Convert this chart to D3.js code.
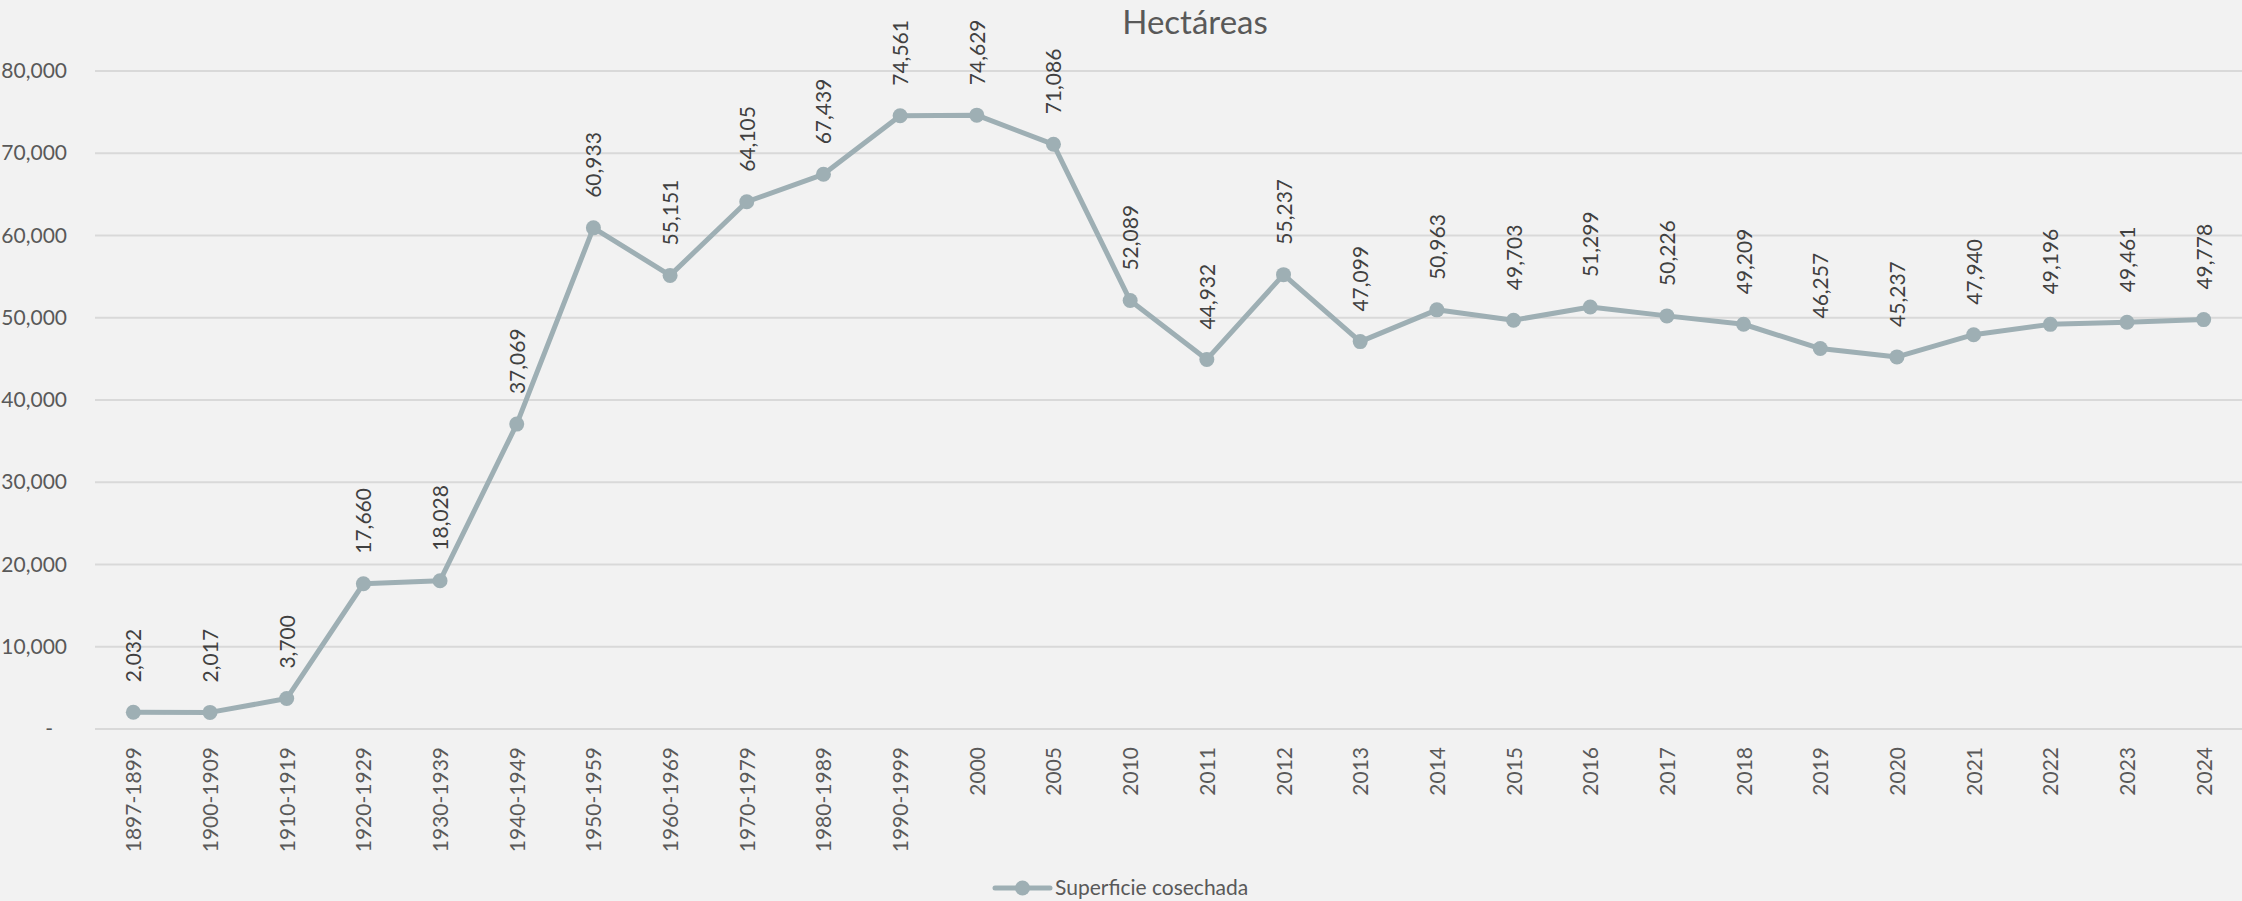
<!DOCTYPE html>
<html><head><meta charset="utf-8">
<script src="https://cdn.jsdelivr.net/npm/d3@7"></script>
<style>
html,body{margin:0;padding:0;background:#F2F2F2;}
svg{display:block;}
text{font-family:"Lato","Open Sans",sans-serif;}
</style></head>
<body><svg id="c" width="2242" height="901"></svg>
<script>
const categories = ["1897-1899","1900-1909","1910-1919","1920-1929","1930-1939","1940-1949","1950-1959","1960-1969","1970-1979","1980-1989","1990-1999","2000","2005","2010","2011","2012","2013","2014","2015","2016","2017","2018","2019","2020","2021","2022","2023","2024"];
const values = [2032,2017,3700,17660,18028,37069,60933,55151,64105,67439,74561,74629,71086,52089,44932,55237,47099,50963,49703,51299,50226,49209,46257,45237,47940,49196,49461,49778];
const yTicks = [0,10000,20000,30000,40000,50000,60000,70000,80000];
const seriesName = "Superficie cosechada";
const title = "Hectáreas";

const W = 2242, H = 901;
const m = {left:95, right:0, top:71, bottom:172};
const lineColor = "#9EAFB4";
const svg = d3.select("#c");
svg.append("rect").attr("width",W).attr("height",H).attr("fill","#F2F2F2");

const x = d3.scaleBand().domain(categories).range([m.left, W - m.right]);
const y = d3.scaleLinear().domain([0,80000]).range([H - m.bottom, m.top]);
const fmt = d3.format(",");

// gridlines
svg.append("g").selectAll("line").data(yTicks).join("line")
  .attr("x1", m.left).attr("x2", W - m.right)
  .attr("y1", d=>y(d)).attr("y2", d=>y(d))
  .attr("stroke","#D9D9D9").attr("stroke-width",2);

// y axis
const yAxis = svg.append("g").attr("transform",`translate(${m.left},0)`)
  .call(d3.axisLeft(y).tickValues(yTicks).tickSize(0).tickPadding(28)
    .tickFormat(d => d===0 ? "-" : fmt(d)));
yAxis.select(".domain").remove();
yAxis.selectAll("text").attr("font-size",21).attr("fill","#595959")
  .style("font-family","Lato, sans-serif");
yAxis.selectAll("text").filter(d=>d===0).attr("dx",-14);

// x axis
const xAxis = svg.append("g").attr("transform",`translate(0,${H - m.bottom})`)
  .call(d3.axisBottom(x).tickSize(0).tickPadding(0));
xAxis.select(".domain").remove();
xAxis.selectAll("text")
  .attr("font-size",21).attr("fill","#595959")
  .style("font-family","Lato, sans-serif")
  .attr("text-anchor","end").attr("dy",null).attr("y",0)
  .attr("transform","translate(8,18) rotate(-90)");

// line
const cx = d => x(d) + x.bandwidth()/2;
const data = categories.map((c,i)=>({c, v:values[i]}));
svg.append("path").datum(data)
  .attr("fill","none").attr("stroke",lineColor).attr("stroke-width",5)
  .attr("stroke-linejoin","round").attr("stroke-linecap","round")
  .attr("d", d3.line().x(d=>cx(d.c)).y(d=>y(d.v)));
svg.append("g").selectAll("circle").data(data).join("circle")
  .attr("cx", d=>cx(d.c)).attr("cy", d=>y(d.v)).attr("r",7.5).attr("fill",lineColor);

// data labels
svg.append("g").selectAll("text").data(data).join("text")
  .attr("transform", d=>`translate(${cx(d.c)+8},${y(d.v)-30}) rotate(-90)`)
  .attr("text-anchor","start").attr("font-size",21).attr("fill","#404040")
  .text(d=>fmt(d.v));

// title
svg.append("text").attr("x",1195).attr("y",34).attr("text-anchor","middle")
  .attr("font-size",33).attr("fill","#595959").text(title);

// legend
const lg = svg.append("g").attr("transform","translate(995,888)");
lg.append("line").attr("x1",0).attr("x2",55).attr("y1",0).attr("y2",0)
  .attr("stroke",lineColor).attr("stroke-width",5).attr("stroke-linecap","round");
lg.append("circle").attr("cx",27.5).attr("cy",0).attr("r",7.5).attr("fill",lineColor);
lg.append("text").attr("x",60).attr("y",7).attr("font-size",21).attr("fill","#595959").text(seriesName);
</script></body></html>
